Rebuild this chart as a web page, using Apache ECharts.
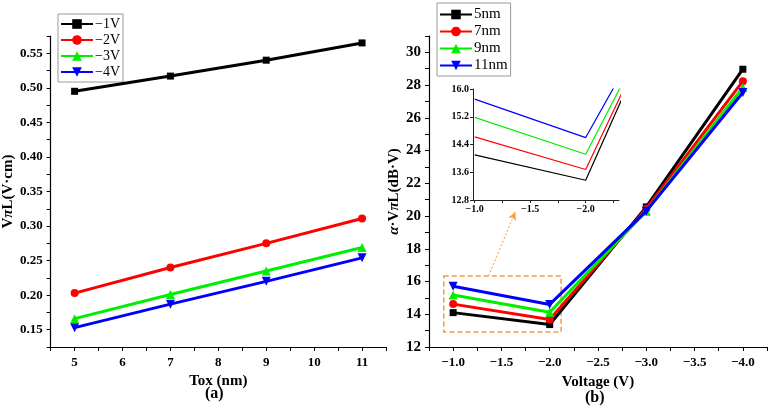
<!DOCTYPE html>
<html>
<head>
<meta charset="utf-8">
<script src="https://cdn.jsdelivr.net/npm/echarts@6/dist/echarts.min.js"></script>
<style>html,body{margin:0;padding:0;background:#fff;}#c{width:772px;height:411px;}</style>
</head>
<body>
<div id="c"></div>
<script>
// ---- data: panel (a) ----
const toxValues = [5, 7, 9, 11];
const vplNames = ['\u22121V', '\u22122V', '\u22123V', '\u22124V'];
const vpl_1V = [0.495, 0.517, 0.540, 0.565];
const vpl_2V = [0.203, 0.240, 0.275, 0.311];
const vpl_3V = [0.166, 0.201, 0.235, 0.269];
const vpl_4V = [0.153, 0.187, 0.220, 0.254];
// ---- data: panel (b) ----
const voltages = [-1, -2, -3, -4];
const tNames = ['5nm', '7nm', '9nm', '11nm'];
const avpl_5nm = [14.10, 13.37, 20.56, 28.97];
const avpl_7nm = [14.62, 13.68, 20.45, 28.24];
const avpl_9nm = [15.18, 14.12, 20.30, 27.86];
const avpl_11nm = [15.71, 14.60, 20.30, 27.55];

const colors = ['#000000', '#ff0000', '#00ee00', '#0000ff'];
const symbols = ['rect', 'circle', 'triangle', 'triangle'];
const symRot = [0, 0, 0, 180];
const symSize = [7, 8, 9, 9];
const FONT = '"Liberation Serif","Times New Roman",serif';
const MINUS = '\u2212';

function pairs(xs, ys) { return xs.map((x, i) => [x, ys[i]]); }
function isMult(v, step) { const r = v / step; return Math.abs(r - Math.round(r)) < 1e-6; }
function fmtNeg(v, d) { const s = Math.abs(v).toFixed(d); return (v < 0 ? MINUS : '') + s; }

const axisLineStyle = { show: true, lineStyle: { color: '#000', width: 1.2 } };
const labelStyle = { color: '#000', fontFamily: FONT, fontWeight: 'bold', fontSize: 13 };

const leftSets = [vpl_1V, vpl_2V, vpl_3V, vpl_4V];
const rightSets = [avpl_5nm, avpl_7nm, avpl_9nm, avpl_11nm];

const series = [];
leftSets.forEach((ys, i) => {
  series.push({
    name: vplNames[i], type: 'line', xAxisIndex: 0, yAxisIndex: 0,
    data: pairs(toxValues, ys),
    symbol: symbols[i], symbolRotate: symRot[i], symbolSize: symSize[i],
    lineStyle: { color: colors[i], width: 3 }, itemStyle: { color: colors[i] },
    emphasis: { disabled: true }, z: 3 + (3 - i)
  });
});
rightSets.forEach((ys, i) => {
  const s = {
    name: tNames[i], type: 'line', xAxisIndex: 1, yAxisIndex: 1,
    data: pairs(voltages, ys),
    symbol: symbols[i], symbolRotate: symRot[i], symbolSize: symSize[i],
    lineStyle: { color: colors[i], width: 3 }, itemStyle: { color: colors[i] },
    emphasis: { disabled: true }, z: 3 + i
  };
  if (i === 0) {
    s.markArea = {
      silent: true,
      itemStyle: { color: 'rgba(0,0,0,0)', borderColor: '#f59a3c', borderWidth: 1.5, borderType: [5, 3] },
      label: { show: false },
      data: [[{ coord: [-0.903, 16.34] }, { coord: [-2.118, 12.92] }]]
    };
    s.markLine = {
      silent: true,
      symbol: ['none', 'arrow'], symbolSize: [6, 8],
      lineStyle: { color: '#f59a3c', width: 1, type: [2, 2] },
      label: { show: false },
      data: [[{ coord: [-1.367, 16.34] }, { coord: [-1.643, 20.25] }]]
    };
  }
  series.push(s);
});
rightSets.forEach((ys, i) => {
  series.push({
    name: 'inset ' + tNames[i], type: 'line', xAxisIndex: 2, yAxisIndex: 2,
    data: pairs(voltages, ys), showSymbol: false, symbol: 'none', clip: true,
    lineStyle: { color: colors[i], width: 1.2 }, emphasis: { disabled: true }, z: 5
  });
});

const option = {
  animation: false,
  backgroundColor: '#fff',
  grid: [
    { left: 48, top: 36, width: 338, height: 311 },
    { left: 429, top: 36, width: 338, height: 311 },
    { left: 473, top: 89, width: 146, height: 111, backgroundColor: '#fff', show: true, borderWidth: 0 }
  ],
  xAxis: [
    { type: 'value', gridIndex: 0, min: 4.5, max: 11.5, interval: 0.5,
      axisLine: axisLineStyle, splitLine: { show: false },
      axisTick: { show: true, inside: false, length: 4, lineStyle: { color: '#000' } },
      axisLabel: Object.assign({ margin: 9, formatter: v => isMult(v, 1) ? String(Math.round(v)) : '' }, labelStyle),
      name: 'Tox (nm)', nameLocation: 'middle', nameGap: 25,
      nameTextStyle: { color: '#000', fontFamily: FONT, fontWeight: 'bold', fontSize: 15 } },
    { type: 'value', gridIndex: 1, inverse: true, min: -4.25, max: -0.75, interval: 0.25,
      axisLine: axisLineStyle, splitLine: { show: false },
      axisTick: { show: true, inside: false, length: 4, lineStyle: { color: '#000' } },
      axisLabel: Object.assign({ margin: 9, formatter: v => isMult(v, 0.5) ? fmtNeg(v, 1) : '' }, labelStyle),
      name: 'Voltage (V)', nameLocation: 'middle', nameGap: 28,
      nameTextStyle: { color: '#000', fontFamily: FONT, fontWeight: 'bold', fontSize: 15 } },
    { type: 'value', gridIndex: 2, inverse: true, min: -2.3, max: -0.985,
      axisLine: { show: true, lineStyle: { color: '#222', width: 1 } }, splitLine: { show: false },
      axisTick: { show: true, length: 3, lineStyle: { color: '#222' }, customValues: [-1, -1.25, -1.5, -1.75, -2, -2.25] },
      axisLabel: { color: '#000', fontFamily: FONT, fontWeight: 'bold', fontSize: 10, margin: 4,
        customValues: [-1, -1.5, -2], formatter: v => fmtNeg(v, 1) } }
  ],
  yAxis: [
    { type: 'value', gridIndex: 0, min: 0.125, max: 0.575, interval: 0.025,
      axisLine: axisLineStyle, splitLine: { show: false },
      axisTick: { show: true, inside: false, length: 4, lineStyle: { color: '#000' } },
      axisLabel: Object.assign({ margin: 8, formatter: v => isMult(v, 0.05) ? v.toFixed(2) : '' }, labelStyle),
      name: 'V{i|\u03c0}L(V\u00b7cm)', nameLocation: 'middle', nameGap: 32, nameRotate: 90,
      nameTextStyle: { color: '#000', fontFamily: FONT, fontWeight: 'bold', fontSize: 15,
        rich: { i: { fontFamily: FONT, fontWeight: 'bold', fontStyle: 'italic', fontSize: 15, color: '#000' } } } },
    { type: 'value', gridIndex: 1, min: 12, max: 31, interval: 1,
      axisLine: axisLineStyle, splitLine: { show: false },
      axisTick: { show: true, inside: false, length: 4, lineStyle: { color: '#000' } },
      axisLabel: Object.assign({ margin: 8, formatter: v => isMult(v, 2) ? String(Math.round(v)) : '' }, labelStyle, { fontSize: 15 }),
      name: '{i|\u03b1}\u00b7V{i|\u03c0}L(dB\u00b7V)', nameLocation: 'middle', nameGap: 22, nameRotate: 90,
      nameTextStyle: { color: '#000', fontFamily: FONT, fontWeight: 'bold', fontSize: 15,
        rich: { i: { fontFamily: FONT, fontWeight: 'bold', fontStyle: 'italic', fontSize: 15, color: '#000' } } } },
    { type: 'value', gridIndex: 2, min: 12.8, max: 16.0, interval: 0.8,
      axisLine: { show: true, lineStyle: { color: '#222', width: 1 } }, splitLine: { show: false },
      axisTick: { show: true, length: 3, lineStyle: { color: '#222' } },
      axisLabel: { color: '#000', fontFamily: FONT, fontWeight: 'bold', fontSize: 10, margin: 4,
        formatter: v => v.toFixed(1) } }
  ],
  legend: [
    { data: vplNames, orient: 'vertical', left: 58, top: 14, itemWidth: 32, itemHeight: 12, itemGap: 2,
      padding: [3, 3, 3, 2], borderColor: '#999', borderWidth: 1, backgroundColor: '#fff',
      selectedMode: false, textStyle: { color: '#000', fontFamily: FONT, fontSize: 14, lineHeight: 14, padding: [0, 0, 0, -3] } },
    { data: tNames, orient: 'vertical', left: 437, top: 3, itemWidth: 32, itemHeight: 12, itemGap: 2,
      padding: [4, 3, 3, 2], borderColor: '#999', borderWidth: 1, backgroundColor: '#fff',
      selectedMode: false, textStyle: { color: '#000', fontFamily: FONT, fontSize: 15, lineHeight: 15, padding: [0, 0, 0, -3] } }
  ],
  graphic: [
    { type: 'text', left: 205, top: 386, style: { text: '(a)', fill: '#000', font: 'bold 16px ' + FONT } },
    { type: 'text', left: 585, top: 390, style: { text: '(b)', fill: '#000', font: 'bold 16px ' + FONT } }
  ],
  series: series
};

const chart = echarts.init(document.getElementById('c'), null, { renderer: 'canvas' });
chart.setOption(option);
</script>
</body>
</html>
